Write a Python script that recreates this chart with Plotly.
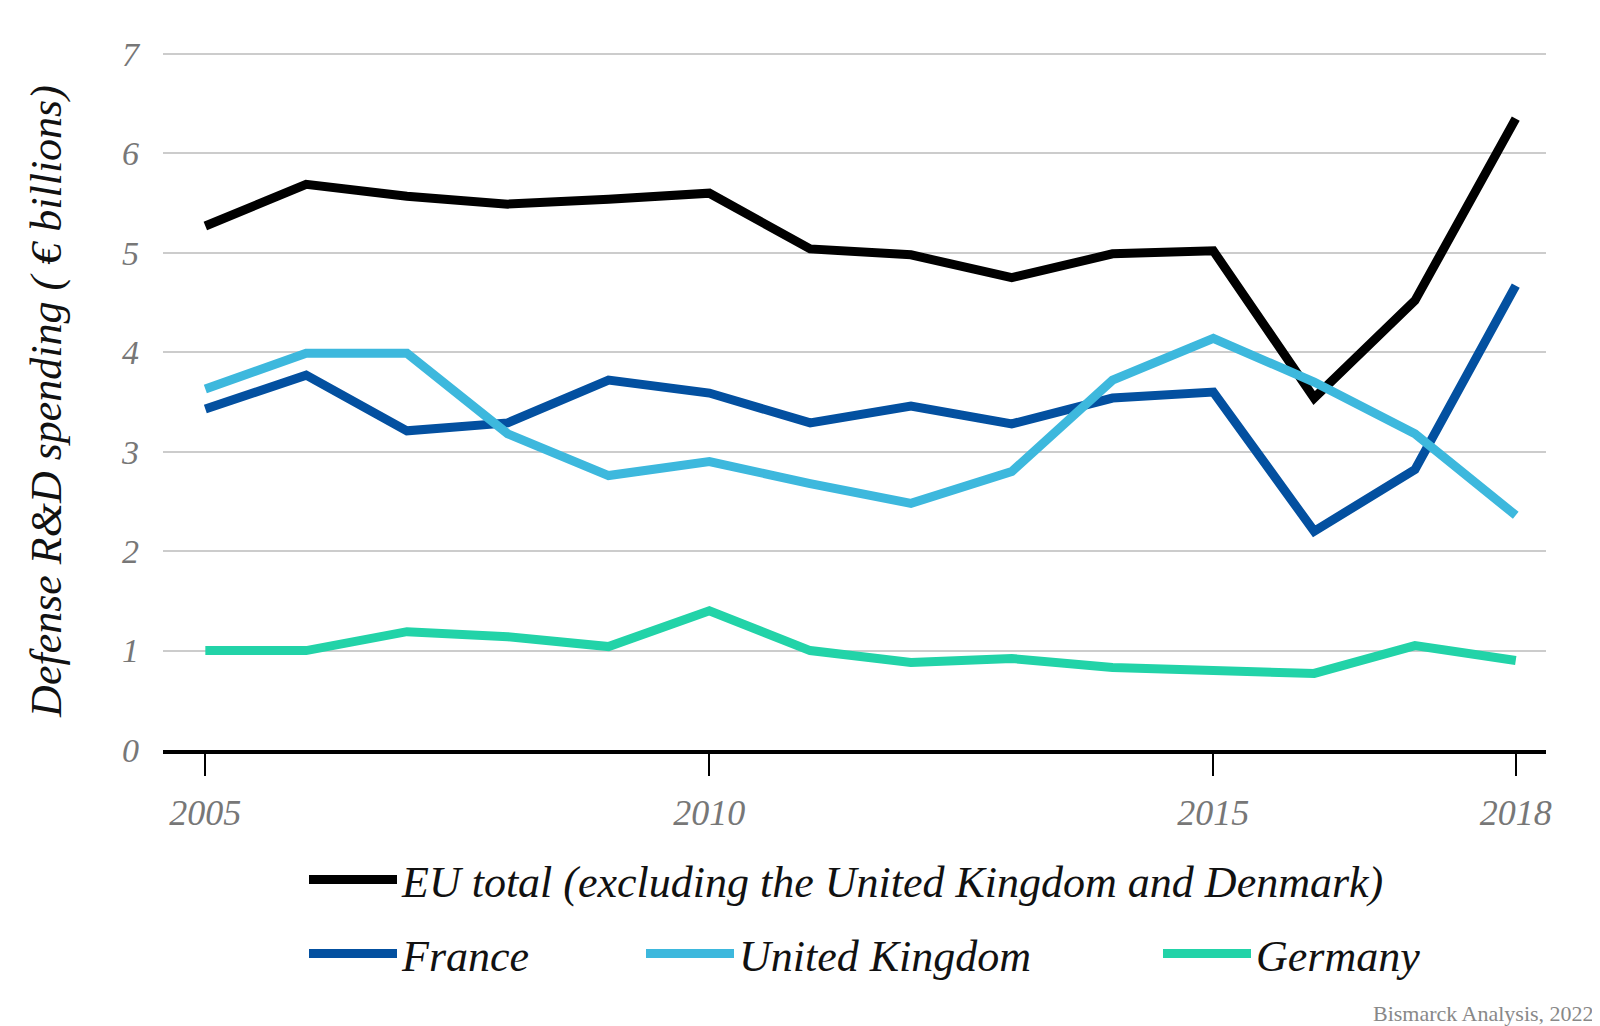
import plotly.graph_objects as go

years = list(range(2005, 2019))
eu_total = [5.27, 5.69, 5.57, 5.49, 5.54, 5.60, 5.04, 4.98, 4.75, 4.99, 5.02, 3.54, 4.52, 6.35]
france = [3.43, 3.77, 3.21, 3.29, 3.72, 3.59, 3.29, 3.46, 3.28, 3.54, 3.60, 2.20, 2.82, 4.67]
uk = [3.63, 3.99, 3.99, 3.18, 2.76, 2.90, 2.68, 2.48, 2.80, 3.72, 4.14, 3.70, 3.18, 2.36]
germany = [1.00, 1.00, 1.19, 1.14, 1.04, 1.40, 1.00, 0.88, 0.92, 0.83, 0.80, 0.77, 1.05, 0.90]

series_names = ["EU total (excluding the United Kingdom and Denmark)", "France", "United Kingdom", "Germany"]
series_values = [eu_total, france, uk, germany]
series_colors = ["#000000", "#0350A0", "#3DB8DD", "#22D3A8"]
legend_ids = ["legend", "legend2", "legend3", "legend4"]

x_ticks = [2005, 2010, 2015, 2018]
y_ticks = [0, 1, 2, 3, 4, 5, 6, 7]

FONT = "Liberation Serif"

fig = go.Figure()
for name, vals, col, lg in zip(series_names, series_values, series_colors, legend_ids):
    fig.add_trace(go.Scatter(x=years, y=vals, mode="lines", name=name,
                             line=dict(color=col, width=9), legend=lg))

legend_font = dict(family=FONT, size=44, color="#111111", style="italic")
common = dict(orientation="h", xanchor="left", yanchor="middle", font=legend_font,
              bgcolor="rgba(0,0,0,0)", traceorder="normal", itemwidth=88)
W = 1383.0
H = 698.0
def lx(px):
    return (px - 163) / W

fig.update_layout(
    width=1592, height=1018,
    margin=dict(l=155, r=54, t=44, b=276),
    paper_bgcolor="white", plot_bgcolor="white",
    showlegend=True,
    legend=dict(x=lx(304), y=-130 / H, **common),
    legend2=dict(x=lx(304), y=-204 / H, **common),
    legend3=dict(x=lx(641), y=-204 / H, **common),
    legend4=dict(x=lx(1158), y=-204 / H, **common),
    xaxis=dict(range=[2004.58, 2018.3], tickvals=x_ticks, ticktext=[str(t) for t in x_ticks],
               showgrid=False, zeroline=False, showline=True, linecolor="black", linewidth=4,
               ticks="outside", ticklen=22, tickwidth=2, tickcolor="black",
               tickfont=dict(family=FONT, size=36, color="#777777", style="italic"),
               ticklabelstandoff=6),
    yaxis=dict(range=[0, 7.02], tickvals=y_ticks, showgrid=True, gridcolor="#cccccc", gridwidth=2,
               zeroline=False, showline=False, ticks="",
               tickfont=dict(family=FONT, size=34, color="#777777", style="italic"),
               ticklabelstandoff=23,
               title=dict(text="Defense R&D spending ( € billions)", standoff=45,
                          font=dict(family=FONT, size=44, color="#111111", style="italic"))),
    annotations=[dict(text="Bismarck Analysis, 2022", xref="paper", yref="paper",
                      x=1.0 + 50 / W, y=-(1013 - 750) / H, xanchor="right", yanchor="middle",
                      showarrow=False, font=dict(family=FONT, size=22, color="#888888"))],
)

fig.write_html("out.html")
